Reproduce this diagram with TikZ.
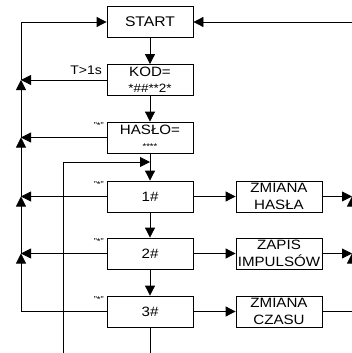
\documentclass[tikz,border=0pt]{standalone}
\usepackage{fontspec}
\setmainfont{Liberation Sans}[FakeStretch=1.12]
\usetikzlibrary{arrows.meta}
\begin{document}
\begin{tikzpicture}[x=1pt,y=-1pt,
  box/.style={draw, line width=0.8pt, minimum width=86pt, minimum height=31pt, inner sep=0pt, align=center, font=\fontsize{13.5}{16.5}\selectfont},
  ln/.style={line width=0.8pt},
  arr/.style={-{Triangle[length=10pt,width=10pt]}},
  lbl/.style={inner sep=0pt, font=\fontsize{8.5}{9}\selectfont},
]
\useasboundingbox (0,0) rectangle (351,353);
\node[box, font=\fontsize{14}{16}\selectfont] (start) at (150,22) {START};
\node[box, font=\fontsize{13.5}{15.5}\selectfont] (kod) at (150,80) {KOD=\\{\fontsize{12}{15.5}\selectfont *\#\#**2*}};
\node[box, font=\fontsize{13.5}{15.5}\selectfont] (hasl) at (150,137.5) {HASŁO=\\{\fontsize{8.5}{15.5}\selectfont ****}};
\node[box] (one) at (150,196.5) {1\#};
\node[box] (two) at (150,253.5) {2\#};
\node[box] (three) at (150,311.5) {3\#};
\node[box] (zh) at (279,196.5) {ZMIANA\\HASŁA};
\node[box] (zi) at (279,253.5) {ZAPIS\\IMPULSÓW};
\node[box] (zc) at (279,311.5) {ZMIANA\\CZASU};

\coordinate (L) at (21,0);
\coordinate (R) at (352,0);
\coordinate (mb) at (63,353);
\coordinate (mt) at (63,162);
\coordinate (jn) at (150,162);
\coordinate (cb) at (150,353);

% labels
\node[inner sep=0pt, font=\fontsize{12.5}{14}\selectfont, anchor=base east] (tl) at (102,74.5) {T>1s};
\node[lbl, anchor=north east] (l1) at (104,122.5) {"*"};
\node[lbl, anchor=north east] (l2) at (104,181.5) {"*"};
\node[lbl, anchor=north east] (l3) at (104,238.5) {"*"};
\node[lbl, anchor=north east] (l4) at (104,296.5) {"*"};

% main column
\draw[ln,arr] (start) -- (kod);
\draw[ln,arr] (kod) -- (hasl);
\draw[ln,arr] (hasl) -- (one);
\draw[ln,arr] (one) -- (two);
\draw[ln,arr] (two) -- (three);
\draw[ln] (three.south) -- (cb);
\draw[ln,arr] (mb) -- (mt) -- (jn);

% left returns
\draw[ln,arr] (kod.west) -- (kod.west -| L);
\draw[ln,arr] (hasl.west) -- (hasl.west -| L);
\draw[ln,arr] (one.west) -- (one.west -| L);
\draw[ln,arr] (two.west) -- (two.west -| L);
\draw[ln] (three.west) -- (three.west -| L);
\draw[ln,arr] (three.west -| L) -- (two.west -| L);
\draw[ln,arr] (two.west -| L) -- (one.west -| L);
\draw[ln,arr] (one.west -| L) -- (hasl.west -| L);
\draw[ln,arr] (hasl.west -| L) -- (kod.west -| L);
\draw[ln,arr] (kod.west -| L) -- (start.west -| L) -- (start.west);

% right branch
\draw[ln,arr] (one) -- (zh);
\draw[ln,arr] (two) -- (zi);
\draw[ln,arr] (three) -- (zc);
\draw[ln,arr] (zh.east) -- (zh.east -| R);
\draw[ln,arr] (zi.east) -- (zi.east -| R);
\draw[ln] (zc.east) -- (zc.east -| R);
\draw[ln,arr] (zc.east -| R) -- (zi.east -| R);
\draw[ln,arr] (zi.east -| R) -- (zh.east -| R);
\draw[ln,arr] (zh.east -| R) -- (start.east -| R) -- (start.east);
\end{tikzpicture}
\end{document}
